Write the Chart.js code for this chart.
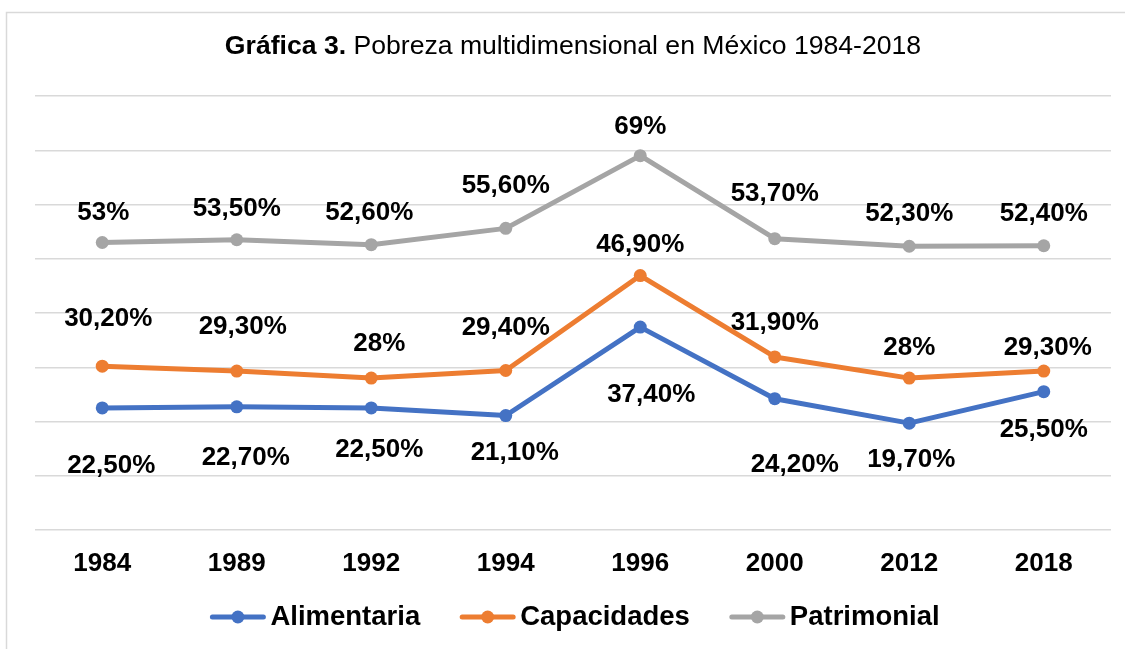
<!DOCTYPE html>
<html>
<head>
<meta charset="utf-8">
<script src="https://cdn.jsdelivr.net/npm/chart.js@4/dist/chart.umd.min.js"></script>
<style>
  html, body { margin: 0; padding: 0; background: #fff; }
  #wrap { width: 1125px; height: 649px; }
</style>
</head>
<body>
<div id="wrap"><canvas id="myChart" width="1125" height="649"></canvas></div>
<script>
var years = ["1984", "1989", "1992", "1994", "1996", "2000", "2012", "2018"];
var alimentaria = [22.5, 22.7, 22.5, 21.1, 37.4, 24.2, 19.7, 25.5];
var capacidades = [30.2, 29.3, 28, 29.4, 46.9, 31.9, 28, 29.3];
var patrimonial = [53, 53.5, 52.6, 55.6, 69, 53.7, 52.3, 52.4];
var seriesNames = ["Alimentaria", "Capacidades", "Patrimonial"];

// where each data label sits relative to its point (Excel labels were moved by hand)
var offAlimentaria = [[9, 58], [9, 51], [8, 42], [9, 37], [11, 68], [20, 66], [2, 37], [0, 38]];
var offCapacidades = [[6, -47], [6, -44], [8, -34], [0, -43], [0, -31], [0, -34], [0, -30], [4, -23]];
var offPatrimonial = [[1, -30], [0, -31], [-2, -32], [0, -43], [0, -29], [0, -45], [0, -32], [0, -32]];

var colors = ["#4472C4", "#ED7D31", "#A5A5A5"];
var FONT = "'Liberation Sans', Arial, sans-serif";

function fmt(v) {
  if (Number.isInteger(v)) return v + "%";
  return v.toFixed(2).replace(".", ",") + "%";
}

var decorPlugin = {
  id: 'decor',
  beforeDraw: function(chart) {
    var ctx = chart.ctx;
    ctx.save();
    ctx.fillStyle = "#fff";
    ctx.fillRect(0, 0, chart.width, chart.height);
    ctx.strokeStyle = "#d9d9d9";
    ctx.lineWidth = 1.5;
    ctx.strokeRect(6.5, 12.5, chart.width + 20, chart.height + 20);
    ctx.restore();
  },
  afterDraw: function(chart) {
    var ctx = chart.ctx;
    var area = chart.chartArea;
    var cx = (area.left + area.right) / 2;
    ctx.save();

    // title, bold part + regular part
    var t1 = "Gráfica 3.";
    var t2 = " Pobreza multidimensional en México 1984-2018";
    ctx.textBaseline = "middle";
    ctx.fillStyle = "#000";
    ctx.font = "bold 26.6px " + FONT;
    var w1 = ctx.measureText(t1).width;
    ctx.font = "26.6px " + FONT;
    var w2 = ctx.measureText(t2).width;
    var x0 = cx - (w1 + w2) / 2;
    ctx.font = "bold 26.6px " + FONT;
    ctx.textAlign = "left";
    ctx.fillText(t1, x0, 47);
    ctx.font = "26.6px " + FONT;
    ctx.fillText(t2, x0 + w1, 47);

    // data labels
    var offs = [offAlimentaria, offCapacidades, offPatrimonial];
    ctx.font = "bold 26px " + FONT;
    ctx.textAlign = "center";
    chart.data.datasets.forEach(function(ds, i) {
      var meta = chart.getDatasetMeta(i);
      meta.data.forEach(function(pt, j) {
        ctx.fillText(fmt(ds.data[j]), pt.x + offs[i][j][0], pt.y + offs[i][j][1]);
      });
    });

    // legend
    var lineW = 55, gap = 5, itemGap = 40, ly = 617;
    ctx.font = "bold 27.5px " + FONT;
    var total = 0;
    var widths = seriesNames.map(function(n) { return ctx.measureText(n).width; });
    widths.forEach(function(w, i) { total += lineW + gap + w + (i < widths.length - 1 ? itemGap : 0); });
    var x = cx - total / 2 + 2;
    ctx.textAlign = "left";
    seriesNames.forEach(function(n, i) {
      ctx.strokeStyle = colors[i];
      ctx.lineWidth = 5;
      ctx.lineCap = "round";
      ctx.beginPath();
      ctx.moveTo(x + 2, ly);
      ctx.lineTo(x + lineW - 2, ly);
      ctx.stroke();
      ctx.fillStyle = colors[i];
      ctx.beginPath();
      ctx.arc(x + lineW / 2, ly, 6.5, 0, Math.PI * 2);
      ctx.fill();
      ctx.fillStyle = "#000";
      ctx.fillText(n, x + lineW + gap, ly);
      x += lineW + gap + widths[i] + itemGap;
    });
    ctx.restore();
  }
};

function renderChart() {
  var ctx = document.getElementById("myChart").getContext('2d');
  var sets = [alimentaria, capacidades, patrimonial].map(function(d, i) {
    return {
      label: seriesNames[i],
      data: d,
      borderColor: colors[i],
      backgroundColor: colors[i],
      borderWidth: 5,
      pointRadius: 6.5,
      pointBorderWidth: 0,
      pointBackgroundColor: colors[i],
      tension: 0,
      borderCapStyle: 'round',
      borderJoinStyle: 'round'
    };
  });
  new Chart(ctx, {
    type: 'line',
    data: { labels: years, datasets: sets },
    options: {
      responsive: false,
      animation: false,
      layout: { padding: { top: 96, left: 35, right: 14, bottom: 0 } },
      plugins: {
        legend: { display: false },
        title: { display: false },
        tooltip: { enabled: false }
      },
      scales: {
        x: {
          offset: true,
          grid: { display: false, drawTicks: false },
          border: { display: false },
          ticks: {
            color: '#000',
            padding: 18,
            font: { family: FONT, size: 26, weight: 'bold' }
          },
          afterFit: function(s) { s.height = 119; }
        },
        y: {
          min: 0,
          max: 80,
          ticks: { display: false, stepSize: 10 },
          grid: { color: '#d9d9d9', lineWidth: 1.5, drawTicks: false },
          border: { display: false },
          afterFit: function(s) { s.width = 0; }
        }
      }
    },
    plugins: [decorPlugin]
  });
}

window.onload = function() {
  renderChart();
};
</script>
</body>
</html>
